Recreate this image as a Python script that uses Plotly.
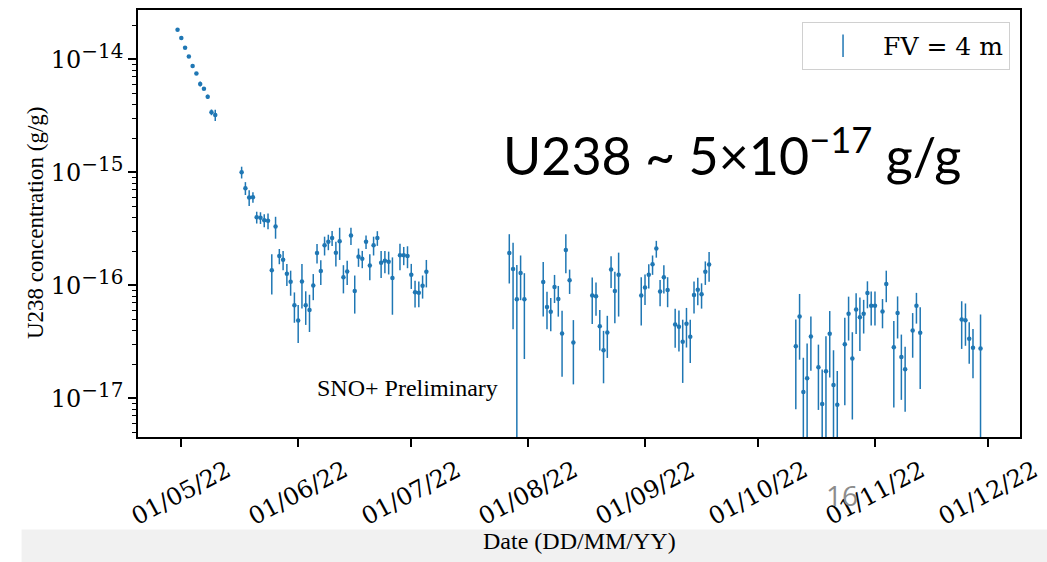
import plotly.graph_objects as go

# ---------------- data (concentration in units of 1e-17 g/g) ----------------
dates = [
    "2022-04-30", "2022-05-01", "2022-05-02", "2022-05-03", "2022-05-04", "2022-05-05",
    "2022-05-06", "2022-05-07", "2022-05-08", "2022-05-09", "2022-05-10",
    "2022-05-17", "2022-05-18", "2022-05-19", "2022-05-20", "2022-05-21", "2022-05-22",
    "2022-05-23", "2022-05-24", "2022-05-25", "2022-05-26", "2022-05-27", "2022-05-28",
    "2022-05-29", "2022-05-30", "2022-05-31", "2022-06-01", "2022-06-02", "2022-06-03",
    "2022-06-04", "2022-06-05", "2022-06-06", "2022-06-07", "2022-06-08", "2022-06-09",
    "2022-06-10", "2022-06-11", "2022-06-12", "2022-06-13", "2022-06-14", "2022-06-15",
    "2022-06-16", "2022-06-17", "2022-06-18", "2022-06-19", "2022-06-20", "2022-06-21",
    "2022-06-22", "2022-06-23", "2022-06-24", "2022-06-25", "2022-06-26", "2022-06-28",
    "2022-06-29", "2022-06-30", "2022-07-01", "2022-07-02", "2022-07-03", "2022-07-04",
    "2022-07-05",
    "2022-07-27", "2022-07-28", "2022-07-29", "2022-07-30", "2022-07-31",
    "2022-08-05", "2022-08-06", "2022-08-07", "2022-08-08", "2022-08-09", "2022-08-10",
    "2022-08-11", "2022-08-12", "2022-08-13", "2022-08-18", "2022-08-19", "2022-08-20",
    "2022-08-21", "2022-08-22", "2022-08-23", "2022-08-24", "2022-08-25", "2022-08-31",
    "2022-09-01", "2022-09-02", "2022-09-03", "2022-09-04", "2022-09-05", "2022-09-06",
    "2022-09-07", "2022-09-09", "2022-09-10", "2022-09-11", "2022-09-12", "2022-09-13",
    "2022-09-14", "2022-09-15", "2022-09-16", "2022-09-17", "2022-09-18",
    "2022-10-11", "2022-10-12", "2022-10-13", "2022-10-14", "2022-10-15", "2022-10-17",
    "2022-10-18", "2022-10-19", "2022-10-20", "2022-10-21", "2022-10-22", "2022-10-24",
    "2022-10-25", "2022-10-26", "2022-10-27", "2022-10-28", "2022-10-29", "2022-10-30",
    "2022-10-31", "2022-11-01", "2022-11-03", "2022-11-04", "2022-11-06", "2022-11-07",
    "2022-11-08", "2022-11-09", "2022-11-11", "2022-11-12", "2022-11-13",
    "2022-11-24", "2022-11-25", "2022-11-26", "2022-11-27", "2022-11-29",
]

u238_e17 = [
    1837, 1553, 1273, 1062, 875, 751,
    607, 552, 468, 341, 322,
    100.4, 72.6, 60.1, 60.4, 40.1, 39.7,
    37.7, 37.4, 13.6, 33.2, 18.2, 16.9,
    12.7, 10.8, 6.67, 4.89, 10.85, 6.67,
    6.07, 10.0, 19.4, 13.4, 22.7, 24.3,
    26.3, 19.5, 24.6, 11.8, 13.3, 27.6,
    8.93, 17.9, 17.2, 24.3, 15.0, 22.7,
    26.3, 15.9, 16.5, 16.2, 11.6, 18.5,
    18.5, 18.2, 12.4, 8.68, 8.62, 9.94,
    13.2,
    19.4, 14.0, 7.53, 12.9, 7.53,
    10.7, 6.45, 5.83, 9.68, 7.59, 3.75,
    20.6, 11.1, 3.13, 8.16, 8.0, 4.35,
    2.66, 3.83, 13.8, 8.93, 12.4, 8.12,
    9.6, 12.4, 15.4, 21.2, 8.85, 11.8,
    9.11, 4.5, 4.3, 3.17, 4.57, 3.51,
    8.23, 9.17, 8.33, 13.2, 15.3,
    2.90, 5.3, 1.14, 1.51, 3.53, 1.89,
    0.89, 1.74, 3.73, 1.31, 0.877, 3.02,
    5.6, 2.25, 6.11, 5.23, 5.6, 8.57,
    6.62, 6.62, 5.87, 10.3, 2.83, 5.69,
    2.32, 1.81, 3.99, 6.59, 3.81,
    4.99, 4.92, 3.37, 2.81, 2.77,
]

err_e17 = [
    10, 10, 10, 10, 10, 10,
    30, 15, 20, 20, 36,
    12, 9.5, 9.6, 6.4, 4.8, 4.7,
    4.9, 6.0, 5.3, 7.3, 2.8, 3.3,
    2.8, 2.7, 2.0, 1.8, 4.6, 2.2,
    2.2, 2.6, 3.8, 3.3, 4.3, 3.8,
    4.0, 4.8, 7.8, 3.3, 3.2, 4.8,
    3.3, 3.3, 3.0, 3.3, 3.9, 4.3,
    3.9, 4.3, 3.7, 3.7, 6.1, 4.9,
    3.4, 4.0, 3.1, 2.3, 2.2, 2.3,
    3.6,
    9.0, 9.9, 7.6, 5.5, 5.3,
    5.4, 2.35, 1.9, 2.7, 2.3, 2.2,
    7.8, 2.7, 1.8, 3.6, 2.6, 1.7,
    1.3, 1.55, 4.3, 4.3, 7.1, 3.7,
    2.9, 3.0, 3.0, 3.6, 2.3, 3.3,
    2.7, 1.7, 1.7, 1.8, 1.75, 1.45,
    2.6, 2.5, 2.1, 3.1, 4.5,
    2.1, 3.1, 1.15, 1.55, 1.77, 1.1,
    0.91, 1.8, 2.2, 1.35, 0.87, 2.15,
    2.35, 1.6, 2.4, 2.6, 1.85, 2.3,
    2.2, 2.2, 1.7, 3.2, 2.0, 2.3,
    1.35, 1.05, 1.7, 2.0, 2.6,
    2.25, 2.0, 1.35, 1.3, 2.75,
]

unit = 1e-17
values = [v * unit for v in u238_e17]
errors = [e * unit for e in err_e17]

x_tick_dates = ["2022-05-01", "2022-06-01", "2022-07-01", "2022-08-01",
                "2022-09-01", "2022-10-01", "2022-11-01", "2022-12-01"]
x_tick_text = ["01/05/22", "01/06/22", "01/07/22", "01/08/22",
               "01/09/22", "01/10/22", "01/11/22", "01/12/22"]
y_tick_vals = [1e-17, 1e-16, 1e-15, 1e-14]
y_tick_exp = ["\u221217", "\u221216", "\u221215", "\u221214"]
y_tick_text = ["10<sup><span style='font-size:20px'>%s</span></sup>" % e for e in y_tick_exp]

BLUE = "#1f77b4"
SERIF = "Liberation Serif"
TICKFONT = "DejaVu Serif"

fig = go.Figure()
fig.add_trace(go.Scatter(
    x=dates, y=values, mode="markers",
    marker=dict(color=BLUE, size=4.5),
    error_y=dict(type="data", array=errors, visible=True,
                 color=BLUE, thickness=1.5, width=0),
    showlegend=False,
))
# legend entry (errorbar-like glyph)
fig.add_trace(go.Scatter(
    x=[None], y=[None], mode="markers", name="FV = 4 m",
    marker=dict(symbol="line-ns", size=16, color=BLUE,
                line=dict(width=1.5, color=BLUE)),
))

# angled, centered month labels
for d, t in zip(x_tick_dates, x_tick_text):
    fig.add_annotation(x=d, xref="x", y=-0.13, yref="paper", text=t,
                       showarrow=False, textangle=-28,
                       xanchor="center", yanchor="middle",
                       font=dict(family=TICKFONT, size=24, color="black"))

def note(text, x, y, size, family=SERIF, color="black", angle=0):
    fig.add_annotation(x=x, y=y, xref="paper", yref="paper", text=text,
                       showarrow=False, textangle=angle,
                       xanchor="center", yanchor="middle",
                       font=dict(family=family, size=size, color=color))

note("Date (DD/MM/YY)", 0.501, -0.2424, 24)
note("U238 concentration (g/g)", -0.1168, 0.501, 23, angle=-90)
note("SNO+ Preliminary", 0.305, 0.1142, 24)
note("U238 ~ 5\u00d710<sup>\u221217</sup> g/g", 0.6735, 0.668, 52, family="Lato")
note("16", 0.798, -0.135, 28, family="Open Sans", color="#8c8c8c")

# light grey band at the bottom of the slide screenshot
fig.add_shape(type="rect", xref="paper", yref="paper", layer="below",
              x0=-0.132, x1=1.05, y0=-0.2168, y1=-0.30,
              fillcolor="#f1f1f1", line=dict(width=0))

fig.update_layout(
    width=1047, height=562,
    margin=dict(l=138, r=27, t=8, b=125),
    paper_bgcolor="white", plot_bgcolor="white",
    font=dict(family=SERIF, size=24, color="black"),
    legend=dict(x=0.9887, y=0.972, xanchor="right", yanchor="top",
                bgcolor="white", bordercolor="#d0d0d0", borderwidth=1,
                font=dict(family="DejaVu Serif", size=25, color="black"),
                itemwidth=70),
    xaxis=dict(type="date", range=["2022-04-19 12:14", "2022-12-09 11:17"],
               tickvals=x_tick_dates, showticklabels=False,
               ticks="outside", ticklen=8, tickwidth=1.5, tickcolor="black",
               showline=True, linecolor="black", linewidth=1.5, mirror=True,
               showgrid=False, zeroline=False),
    yaxis=dict(type="log", range=[-17.342, -13.562],
               tickvals=y_tick_vals, ticktext=y_tick_text,
               ticks="outside", ticklen=8, tickwidth=1.5, tickcolor="black",
               tickfont=dict(family=TICKFONT, size=24),
               minor=dict(ticks="outside", ticklen=4, tickwidth=1, tickcolor="black",
                          dtick="D1", showgrid=False),
               showline=True, linecolor="black", linewidth=1.5, mirror=True,
               showgrid=False, zeroline=False),
)

fig.write_html("out.html")
